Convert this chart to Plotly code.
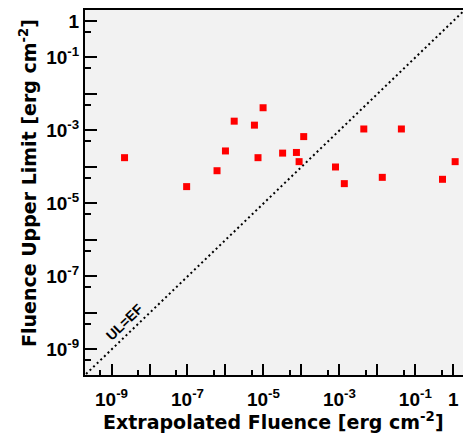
import plotly.graph_objects as go

# Data (erg cm^-2)
extrapolated_fluence = [2.2e-9, 9.5e-8, 6.0e-7, 1.0e-6, 1.7e-6, 5.8e-6, 7.2e-6, 9.8e-6,
                        3.2e-5, 7.4e-5, 8.7e-5, 1.15e-4, 7.9e-4, 1.35e-3, 4.4e-3,
                        1.35e-2, 4.3e-2, 0.52, 1.12]
fluence_upper_limit = [1.8e-4, 2.9e-5, 7.9e-5, 2.75e-4, 1.8e-3, 1.4e-3, 1.8e-4, 4.2e-3,
                       2.4e-4, 2.5e-4, 1.4e-4, 6.8e-4, 1.0e-4, 3.5e-5, 1.1e-3,
                       5.2e-5, 1.1e-3, 4.6e-5, 1.4e-4]

# UL = EF reference line
diag = [1e-11, 1e1]

# Ticks
major_ticks = [10.0 ** e for e in range(-9, 1)]
major_text = ["10<sup>%d</sup>" % e if (e % 2 != 0) else "" for e in range(-9, 0)] + ["1"]
minor_ticks = [5 * 10.0 ** e for e in range(-10, 0)]

W, H = 463, 434
L, R, T, B = 85, 0, 10, 59
pw, ph = W - L - R, H - T - B

def px(xp):
    return (xp - L) / pw

def py(yp):
    return (H - B - yp) / ph

tick_font = dict(family="Liberation Sans, Arial", size=19, color="black", weight="bold")
title_font = dict(family="DejaVu Sans", size=19, color="black", weight="bold")

fig = go.Figure()
fig.add_trace(go.Scatter(x=diag, y=diag, mode="lines",
                         line=dict(color="black", width=2, dash="2px,3px"),
                         hoverinfo="skip", showlegend=False))
fig.add_trace(go.Scatter(x=extrapolated_fluence, y=fluence_upper_limit, mode="markers",
                         marker=dict(symbol="square", size=7, color="#ff0000"),
                         showlegend=False))

fig.update_layout(
    width=W, height=H,
    margin=dict(l=L, r=R, t=T, b=B),
    paper_bgcolor="white",
    plot_bgcolor="#f2f2f2",
    showlegend=False,
    xaxis=dict(type="log", range=[-9.699, 0.256], showgrid=False, zeroline=False,
               showline=True, linecolor="black", linewidth=2, mirror=True,
               ticks="inside", ticklen=11, tickwidth=1.5, tickcolor="black",
               tickvals=major_ticks, ticktext=major_text, tickfont=tick_font,
               ticklabelstandoff=6,
               minor=dict(tickvals=minor_ticks, ticks="inside", ticklen=5,
                          tickwidth=1.5, tickcolor="black", showgrid=False)),
    yaxis=dict(type="log", range=[-9.699, 0.301], showgrid=False, zeroline=False,
               showline=True, linecolor="black", linewidth=2, mirror=False,
               ticks="inside", ticklen=12, tickwidth=1.5, tickcolor="black",
               tickvals=major_ticks, ticktext=major_text, tickfont=tick_font,
               minor=dict(tickvals=minor_ticks, ticks="inside", ticklen=6,
                          tickwidth=1.5, tickcolor="black", showgrid=False)),
    annotations=[
        dict(text="Extrapolated Fluence [erg cm<sup>-2</sup>]", xref="paper", yref="paper",
             x=px(273.5), y=py(421), xanchor="center", yanchor="middle",
             showarrow=False, font=title_font),
        dict(text="Fluence Upper Limit [erg cm<sup>-2</sup>]", xref="paper", yref="paper",
             x=px(28), y=py(183), xanchor="center", yanchor="middle", textangle=-90,
             showarrow=False, font=title_font),
        dict(text="UL=EF", xref="x", yref="y", x=-8.66, y=-8.25,
             xanchor="center", yanchor="middle", textangle=-44, showarrow=False,
             font=dict(family="Liberation Sans, Arial", size=14, color="black", weight="bold")),
    ],
)

fig.write_html("out.html", config={"displayModeBar": False},
               post_script="document.body.style.margin='0';")
